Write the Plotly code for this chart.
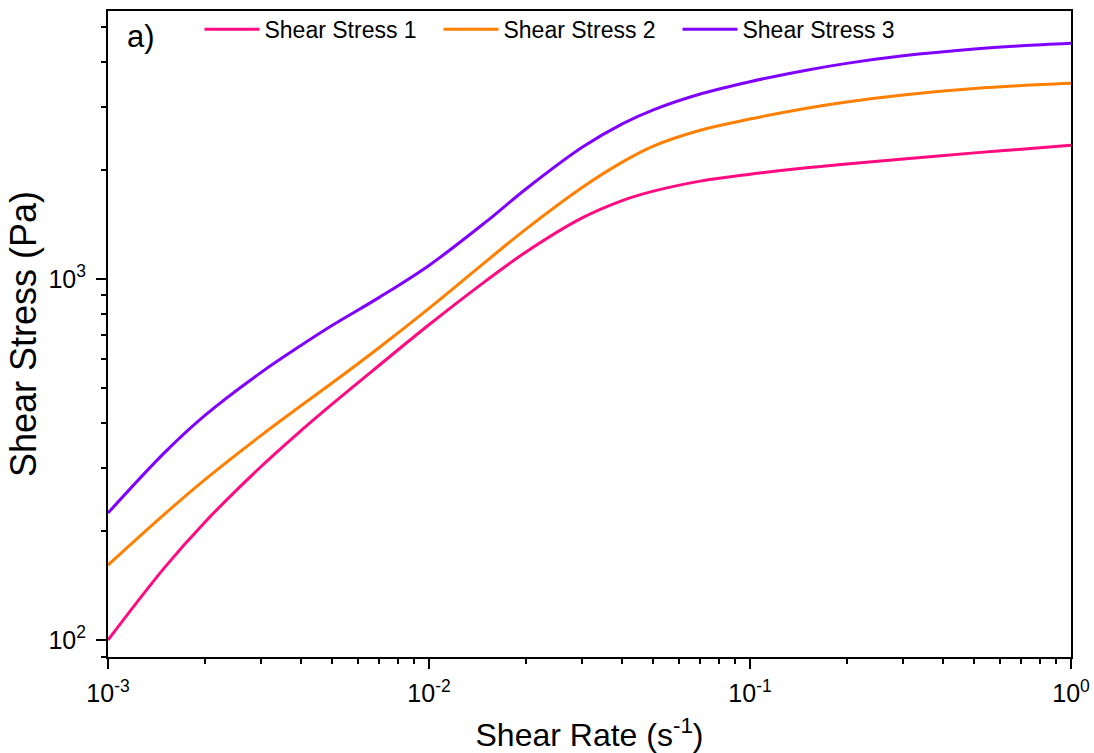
import plotly.graph_objects as go

# Shear rate (1/s)
shear_rate = [0.001, 0.0015, 0.002, 0.003, 0.004, 0.005, 0.007, 0.01, 0.015, 0.02,
              0.03, 0.04, 0.05, 0.07, 0.1, 0.15, 0.2, 0.3, 0.5, 0.7, 1.0]

# Shear stress (Pa) for the three samples
stress_1 = [100, 158.7, 211.7, 302.4, 380.6, 450.8, 576.8, 746.5, 986, 1186,
            1476, 1648, 1750, 1866, 1950, 2032, 2080, 2148, 2234, 2286, 2344]
stress_2 = [161.3, 223.2, 277.7, 368.8, 446, 515.6, 646, 829, 1115, 1372,
            1792, 2106, 2333, 2581, 2772, 2970, 3092, 3233, 3369, 3431, 3480]
stress_3 = [224.8, 330.4, 418.3, 551.2, 655.2, 744, 889.2, 1090, 1436, 1772,
            2315, 2689, 2940, 3252, 3518, 3784, 3953, 4149, 4333, 4422, 4494]

series_names = ["Shear Stress 1", "Shear Stress 2", "Shear Stress 3"]
series_colors = ["#FF0A80", "#FF8000", "#8000FF"]

x_tickvals = [0.001, 0.01, 0.1, 1]
x_ticktext = ["10<sup>-3</sup>", "10<sup>-2</sup>", "10<sup>-1</sup>", "10<sup>0</sup>"]
y_tickvals = [100, 1000]
y_ticktext = ["10<sup>2</sup>", "10<sup>3</sup>"]

fig = go.Figure()
for name, ys, col in zip(series_names, [stress_1, stress_2, stress_3], series_colors):
    fig.add_trace(go.Scatter(
        x=shear_rate, y=ys, name=name, mode="lines",
        line=dict(color=col, width=3, shape="spline", smoothing=1.0),
    ))

font_family = "Liberation Sans, Arial, sans-serif"

axis_common = dict(
    type="log",
    showgrid=False,
    zeroline=False,
    showline=True,
    linecolor="black",
    linewidth=2,
    mirror=True,
    automargin=False,
    ticks="outside",
    ticklen=10,
    tickwidth=2,
    tickcolor="black",
    tickfont=dict(family=font_family, size=25, color="black"),
    minor=dict(ticks="outside", ticklen=5, tickwidth=2, tickcolor="black", dtick="D1"),
)

fig.update_layout(
    width=1094,
    height=753,
    margin=dict(l=108, r=23, t=11, b=96, autoexpand=False),
    paper_bgcolor="white",
    plot_bgcolor="white",
    font=dict(family=font_family, color="black"),
    xaxis=dict(
        **axis_common,
        range=[-3, 0],
        tickmode="array",
        tickvals=x_tickvals,
        ticktext=x_ticktext,
        ticklabelstandoff=3,
        title=dict(text="Shear Rate (s<sup>-1</sup>)", font=dict(size=32), standoff=22),
    ),
    yaxis=dict(
        **axis_common,
        range=[1.953, 3.742],
        tickmode="array",
        tickvals=y_tickvals,
        ticktext=y_ticktext,
        ticklabelstandoff=5,
        title=dict(text="Shear Stress (Pa)", font=dict(size=36), standoff=1),
    ),
    legend=dict(
        orientation="h",
        x=0.095, xanchor="left",
        y=1.005, yanchor="top",
        bgcolor="rgba(0,0,0,0)",
        font=dict(size=23, family=font_family),
        itemwidth=55,
        entrywidth=169,
        entrywidthmode="pixels",
    ),
    annotations=[dict(
        text="a)", xref="paper", yref="paper", x=0.018, y=0.99,
        xanchor="left", yanchor="top", showarrow=False,
        font=dict(size=31, family=font_family, color="black"),
    )],
)

fig.write_html("out.html")
